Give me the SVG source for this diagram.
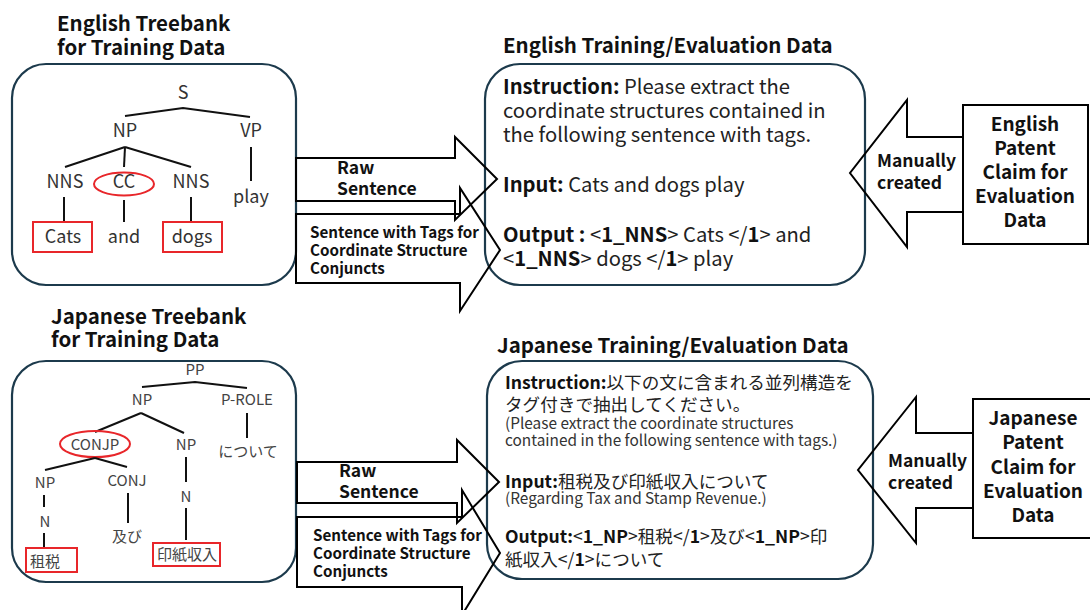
<svg xmlns="http://www.w3.org/2000/svg" width="1090" height="610" viewBox="0 0 1090 610">
<style>
.title{font-family:"Noto Sans CJK JP","Noto Sans",sans-serif;font-weight:bold;font-size:20.5px;fill:#111}
.box{fill:#fff;stroke:#1c3a4c;stroke-width:2.2}
.tree{font-family:"Noto Sans CJK JP","Noto Sans",sans-serif;font-size:18px;fill:#333;text-anchor:middle}
.treej{font-family:"Noto Sans CJK JP","Noto Sans",sans-serif;font-size:15px;fill:#444;text-anchor:middle}
.ln{stroke:#111;stroke-width:2;fill:none}
.red{stroke:#e8262a;stroke-width:2;fill:none}
.arrow{fill:none;stroke:#000;stroke-width:2;stroke-linejoin:miter}
.albl{font-family:"Noto Sans CJK JP","Noto Sans",sans-serif;font-weight:bold;font-size:17.5px;fill:#111}
.albs{font-family:"Noto Sans CJK JP","Noto Sans",sans-serif;font-weight:bold;font-size:15.2px;fill:#111}
.body{font-family:"Noto Sans CJK JP","Noto Sans",sans-serif;font-size:20.2px;fill:#222}
.bodyj{font-family:"Noto Sans CJK JP","Noto Sans",sans-serif;font-size:17.6px;fill:#222}
.small{font-family:"Noto Sans CJK JP","Noto Sans",sans-serif;font-size:15.4px;fill:#333}
.b{font-weight:bold;fill:#111}
.side{font-family:"Noto Sans CJK JP","Noto Sans",sans-serif;font-weight:bold;font-size:19px;fill:#111;text-anchor:middle}
</style>

<!-- English treebank -->
<g id="en-treebank">
<text class="title" x="57" y="31">English Treebank</text>
<text class="title" x="57" y="55">for Training Data</text>
<rect class="box" x="12" y="64" width="284" height="221" rx="34"/>
<text class="tree" x="183" y="99">S</text>
<polyline class="ln" points="125,116 183,108 250,117"/>
<text class="tree" x="125" y="137">NP</text>
<text class="tree" x="251" y="137">VP</text>
<line class="ln" x1="125" y1="147" x2="65" y2="167"/>
<line class="ln" x1="125" y1="147" x2="124" y2="167"/>
<line class="ln" x1="125" y1="147" x2="191" y2="167"/>
<line class="ln" x1="251" y1="147" x2="251" y2="181"/>
<text class="tree" x="65" y="188">NNS</text>
<ellipse class="red" cx="124" cy="184" rx="30" ry="11.5"/>
<text class="tree" x="124" y="188">CC</text>
<text class="tree" x="191" y="188">NNS</text>
<text class="tree" x="251" y="203">play</text>
<line class="ln" x1="64" y1="197" x2="64" y2="222"/>
<line class="ln" x1="124" y1="200" x2="124" y2="222"/>
<line class="ln" x1="191" y1="197" x2="191" y2="222"/>
<rect class="red" x="33" y="222" width="59" height="30"/>
<text class="tree" x="63" y="243">Cats</text>
<text class="tree" x="124" y="243">and</text>
<rect class="red" x="163" y="222" width="59" height="30"/>
<text class="tree" x="192" y="243">dogs</text>
</g>

<!-- Japanese treebank -->
<g id="ja-treebank">
<text class="title" x="51" y="324">Japanese Treebank</text>
<text class="title" x="51" y="347">for Training Data</text>
<rect class="box" x="12" y="361" width="284" height="221" rx="34"/>
<text class="treej" x="195" y="375">PP</text>
<polyline class="ln" points="142,387 195,382 247,388"/>
<text class="treej" x="142" y="405">NP</text>
<text class="treej" x="247" y="405">P-ROLE</text>
<line class="ln" x1="141" y1="413" x2="95" y2="432"/>
<line class="ln" x1="141" y1="413" x2="184" y2="433"/>
<line class="ln" x1="247" y1="413" x2="247" y2="438"/>
<ellipse class="red" cx="95" cy="444" rx="35" ry="13"/>
<text class="treej" x="95" y="450">CONJP</text>
<text class="treej" x="186" y="450">NP</text>
<text class="treej" x="248" y="457">について</text>
<line class="ln" x1="95" y1="458" x2="45" y2="470"/>
<line class="ln" x1="95" y1="458" x2="127" y2="467"/>
<line class="ln" x1="186" y1="457" x2="186" y2="482"/>
<text class="treej" x="45" y="488">NP</text>
<text class="treej" x="127" y="486">CONJ</text>
<text class="treej" x="186" y="502">N</text>
<line class="ln" x1="44" y1="495" x2="44" y2="507"/>
<text class="treej" x="45" y="527">N</text>
<line class="ln" x1="44" y1="533" x2="44" y2="547"/>
<line class="ln" x1="128" y1="493" x2="128" y2="523"/>
<text class="treej" x="127" y="542">及び</text>
<line class="ln" x1="186" y1="508" x2="186" y2="540"/>
<rect class="red" x="26" y="548" width="51" height="24"/>
<text class="treej" x="45" y="567">租税</text>
<rect class="red" x="153" y="543" width="67" height="23"/>
<text class="treej" x="187" y="560">印紙収入</text>
</g>

<!-- English data -->
<g id="en-data">
<text class="title" x="503" y="53">English Training/Evaluation Data</text>
<rect class="box" x="485" y="64" width="380" height="221" rx="35"/>
<text class="body" x="503" y="94"><tspan class="b">Instruction:</tspan> Please extract the</text>
<text class="body" x="503" y="118">coordinate structures contained in</text>
<text class="body" x="503" y="142">the following sentence with tags.</text>
<text class="body" x="503" y="192"><tspan class="b">Input:</tspan> Cats and dogs play</text>
<text class="body" x="503" y="242"><tspan class="b">Output :</tspan> &lt;<tspan class="b">1_NNS</tspan>&gt; Cats &lt;/<tspan class="b">1</tspan>&gt; and</text>
<text class="body" x="503" y="266">&lt;<tspan class="b">1_NNS</tspan>&gt; dogs &lt;/<tspan class="b">1</tspan>&gt; play</text>
</g>

<!-- Japanese data -->
<g id="ja-data">
<text class="title" x="497" y="353">Japanese Training/Evaluation Data</text>
<rect class="box" x="487" y="361" width="386" height="218" rx="35"/>
<text class="bodyj" x="505" y="389"><tspan class="b">Instruction:</tspan>以下の文に含まれる並列構造を</text>
<text class="bodyj" x="505" y="411">タグ付きで抽出してください。</text>
<text class="small" x="505" y="429">(Please extract the coordinate structures</text>
<text class="small" x="505" y="446">contained in the following sentence with tags.)</text>
<text class="bodyj" x="505" y="488"><tspan class="b">Input:</tspan>租税及び印紙収入について</text>
<text class="small" x="505" y="504">(Regarding Tax and Stamp Revenue.)</text>
<text class="bodyj" x="505" y="543"><tspan class="b">Output:</tspan>&lt;<tspan class="b">1_NP</tspan>&gt;租税&lt;/<tspan class="b">1</tspan>&gt;及び&lt;<tspan class="b">1_NP</tspan>&gt;印</text>
<text class="bodyj" x="505" y="566">紙収入&lt;/<tspan class="b">1</tspan>&gt;について</text>
</g>

<!-- English patent claim -->
<g id="en-patent">
<rect x="963" y="105" width="125" height="139" fill="#fff" stroke="#000" stroke-width="2"/>
<text class="side" x="1025" y="131">English</text>
<text class="side" x="1025" y="155">Patent</text>
<text class="side" x="1025" y="179">Claim for</text>
<text class="side" x="1025" y="203">Evaluation</text>
<text class="side" x="1025" y="227">Data</text>
</g>

<!-- Japanese patent claim -->
<g id="ja-patent">
<rect x="973" y="399" width="125" height="139" fill="#fff" stroke="#000" stroke-width="2"/>
<text class="side" x="1033" y="425">Japanese</text>
<text class="side" x="1033" y="449">Patent</text>
<text class="side" x="1033" y="474">Claim for</text>
<text class="side" x="1033" y="498">Evaluation</text>
<text class="side" x="1033" y="522">Data</text>
</g>

<!-- connectors -->
<g id="connectors">
<path class="arrow" d="M296,158 H455 V137 L497,179 L455,220 V201 H296 Z"/>
<text class="albl" x="337" y="174">Raw</text>
<text class="albl" x="337" y="195">Sentence</text>
<path class="arrow" d="M296,214 H460 V188 L500,250 L460,311 V283 H296 Z"/>
<text class="albs" x="310" y="238">Sentence with Tags for</text>
<text class="albs" x="310" y="256">Coordinate Structure</text>
<text class="albs" x="310" y="274">Conjuncts</text>

<path class="arrow" d="M297,462 H457 V440 L499,482 L457,523 V503 H297 Z"/>
<text class="albl" x="339" y="477">Raw</text>
<text class="albl" x="339" y="498">Sentence</text>
<path class="arrow" d="M297,517 H462 V490 L500,553 L462,615 V587 H297 Z"/>
<text class="albs" x="313" y="541">Sentence with Tags for</text>
<text class="albs" x="313" y="559">Coordinate Structure</text>
<text class="albs" x="313" y="577">Conjuncts</text>

<path class="arrow" d="M963,137 H907 V100 L850,173 L907,247 V212 H963"/>
<text class="albl" x="877" y="167">Manually</text>
<text class="albl" x="877" y="189">created</text>
<path class="arrow" d="M973,433 H916 V397 L858,470 L916,543 V508 H973"/>
<text class="albl" x="888" y="467">Manually</text>
<text class="albl" x="888" y="489">created</text>
</g>
</svg>
